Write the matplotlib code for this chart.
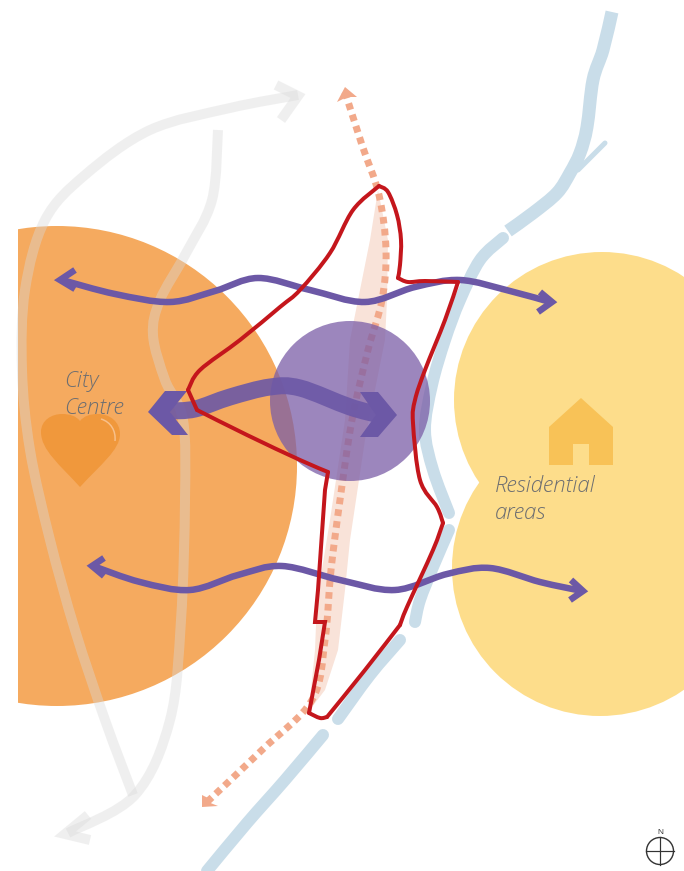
import matplotlib
matplotlib.use('Agg')
import matplotlib.pyplot as plt
from matplotlib.path import Path
from matplotlib.patches import Circle, PathPatch, Polygon, Rectangle

# everything below is in picture pixels, y going down
orange_c = (57, 466, 240)
yellow_c1 = (602, 400, 148)
yellow_c2 = (600, 568, 148)
purple_c = (350, 401, 80)

road_outer = [(298,95),(230,108),(150,130),(85,175),(45,220),(25,290),(22,370),(30,450),(50,540),(75,630),(105,720),(133,795)]
road_inner = [(218,130),(212,200),(185,255),(160,300),(153,335),(165,380),(183,420),(185,500),(181,620),(170,720),(135,795),(68,833)]
road_head1 = [(276,85),(298,96),(281,120)]
road_head2 = [(88,815),(65,834),(90,840)]

river1 = [(612,12),(603,50),(593,80),(587,127),(580,153),(570,173),(557,193),(533,213),(508,231)]
river2 = [(503,238),(480,260),(460,300),(445,340),(432,385),(425,430),(433,470),(449,513)]
river3 = [(449,530),(433,567),(420,600),(415,622)]
river4 = [(400,640),(370,675),(338,719)]
river5 = [(323,735),(285,780),(247,823),(207,871)]
branch = [(578,170),(605,143)]

band = [(378,190),(370,240),(358,300),(350,340),(345,420),(330,520),(317,600),(315,650),(310,700),(312,707),(325,690),(338,650),(345,590),(350,540),(365,440),(385,340),(387,300),(388,240)]
dotted = [(345,92),(362,145),(379,195),(386,250),(382,300),(368,350),(352,420),(340,500),(331,570),(325,640),(312,700),(262,750),(207,802)]
dot_head1 = [(345,87),(357,97),(347,97),(337,102)]
dot_head2 = [(202,807),(202,795),(210,799),(208,802),(218,806)]

top_arrow = [(62,280),(115,294),(170,302),(215,291),(258,278),(310,290),(365,302),(415,287),(460,280),(510,291),(550,302)]
top_head1 = [(75,270),(60,280),(75,289)]
top_head2 = [(540,292),(552,302),(538,312)]
low_arrow = [(93,566),(140,582),(190,590),(238,575),(282,566),(340,580),(395,590),(447,574),(490,568),(540,582),(582,591)]
low_head1 = [(104,558),(92,566),(104,576)]
low_head2 = [(571,580),(583,591),(570,600)]
main_arrow = [(170,411),(195,409),(230,397),(270,387),(300,388),(350,407),(380,415)]
main_head1 = [(148,412),(165,391),(187,391),(170,412),(188,435),(172,435)]
main_head2 = [(397,415),(378,392),(360,392),(376,415),(360,437),(378,437)]

# boundary drawn in stretches, the corners between them stay sharp
edge_a = [(379,186),(388,192),(397,215),(401,240),(400,265),(398,278)]
edge_b = [(398,278),(408,282),(425,281),(458,282)]
edge_c = [(458,282),(445,320),(425,370),(415,400),(413,423),(420,480),(437,507),(443,523)]
edge_d = [(443,523),(433,550),(407,607),(400,625)]
edge_e = [(400,625),(365,670),(327,717)]
edge_f = [(327,717),(320,718),(309,713)]
edge_g = [(309,713),(319,660),(325,622),(315,622),(318,590),(325,490),(328,472)]
edge_h = [(328,472),(300,460),(247,435),(197,410)]
edge_i = [(197,410),(188,390)]
edge_j = [(188,390),(200,370),(240,340),(280,307),(300,290),(330,253),(353,210),(379,186)]

heart = [(80,487),(60,465),(41,450),(41,432),(41,420),(52,414),(62,414),(70,414),(76,416),(80,421),(84,416),(90,414),(98,414),(110,414),(120,422),(120,434),(120,450),(100,465),(80,487)]
heart_shine = [(101,419),(111,422),(116,431),(115,441)]
house = [(581,398),(613,427),(613,465),(589,465),(589,444),(573,444),(573,465),(549,465),(549,427)]

purple = '#6c58a6'
peach = '#f2a98a'
river_col = '#c9dde9'
red = '#c4161c'
text_col = '#6d6e71'


def px(n):
    return n * 0.72


def smooth(pts):
    # catmull-rom through the points, written as bezier segments
    verts = [pts[0]]
    codes = [Path.MOVETO]
    for i in range(len(pts) - 1):
        p0 = pts[max(i - 1, 0)]
        p1 = pts[i]
        p2 = pts[i + 1]
        p3 = pts[min(i + 2, len(pts) - 1)]
        c1 = (p1[0] + (p2[0] - p0[0]) / 6, p1[1] + (p2[1] - p0[1]) / 6)
        c2 = (p2[0] - (p3[0] - p1[0]) / 6, p2[1] - (p3[1] - p1[1]) / 6)
        verts += [c1, c2, p2]
        codes += [Path.CURVE4] * 3
    return Path(verts, codes)


def curve(pts, color, w, z, **kw):
    p = PathPatch(smooth(pts), fill=False, edgecolor=color, lw=px(w), zorder=z, **kw)
    ax.add_patch(p)
    return p


def chevron(pts, color, w, z, alpha=1):
    xs = [q[0] for q in pts]
    ys = [q[1] for q in pts]
    ax.plot(xs, ys, color=color, lw=px(w), zorder=z, alpha=alpha,
            solid_joinstyle='miter', solid_capstyle='butt')


fig = plt.figure(figsize=(6.84, 8.71), dpi=100)
ax = fig.add_axes([0, 0, 1, 1])
ax.set_xlim(0, 684)
ax.set_ylim(871, 0)
ax.axis('off')

# the orange disc is cut off at the left page margin
clip = Rectangle((18, 0), 666, 871, transform=ax.transData)
o = Circle(orange_c[:2], orange_c[2], color='#f5aa5f', lw=0, zorder=1)
ax.add_patch(o)
o.set_clip_path(clip)
ax.add_patch(Circle(yellow_c1[:2], yellow_c1[2], color='#fddd8b', lw=0, zorder=1))
ax.add_patch(Circle(yellow_c2[:2], yellow_c2[2], color='#fddd8b', lw=0, zorder=1))

for r in (road_outer, road_inner):
    curve(r, '#d9d9d9', 10, 2, alpha=0.4, capstyle='butt')
chevron(road_head1, '#d9d9d9', 10, 2, alpha=0.4)
chevron(road_head2, '#d9d9d9', 10, 2, alpha=0.4)

curve(river1, river_col, 13, 3, capstyle='butt')
for r in (river2, river3, river4, river5):
    curve(r, river_col, 12, 3, capstyle='round')
curve(branch, river_col, 5, 3, capstyle='round')

ax.add_patch(Polygon(band, closed=True, color='#f9e3d9', lw=0, zorder=4))
curve(dotted, peach, 7, 5, linestyle=(0, (0.95, 0.75)), capstyle='butt')
ax.add_patch(Polygon(dot_head1, closed=True, color=peach, lw=0, zorder=5))
ax.add_patch(Polygon(dot_head2, closed=True, color=peach, lw=0, zorder=5))

ax.add_patch(Circle(purple_c[:2], purple_c[2], color='#7b5ea7', alpha=0.75, lw=0, zorder=6))

curve(top_arrow, purple, 6.5, 7, capstyle='butt')
chevron(top_head1, purple, 6.5, 7)
chevron(top_head2, purple, 6.5, 7)
curve(low_arrow, purple, 6.5, 7, capstyle='butt')
chevron(low_head1, purple, 6.5, 7)
chevron(low_head2, purple, 6.5, 7)
curve(main_arrow, purple, 17, 7, alpha=0.9, capstyle='butt')
ax.add_patch(Polygon(main_head1, closed=True, color=purple, lw=0, zorder=7))
ax.add_patch(Polygon(main_head2, closed=True, color=purple, lw=0, zorder=7))

for e in (edge_a, edge_b, edge_c, edge_d, edge_e, edge_f, edge_h, edge_i, edge_j):
    curve(e, red, 4, 8, capstyle='round')
ax.plot([q[0] for q in edge_g], [q[1] for q in edge_g], color=red, lw=px(4), zorder=8,
        solid_joinstyle='miter', solid_capstyle='round')

# heart and house icons
codes = [Path.MOVETO] + [Path.CURVE4] * (len(heart) - 1)
ax.add_patch(PathPatch(Path(heart, codes), facecolor='#f0983c', lw=0, zorder=4))
ax.add_patch(PathPatch(Path(heart_shine, [Path.MOVETO] + [Path.CURVE4] * 3), fill=False,
                       edgecolor='#f8c08a', lw=px(1.5), zorder=4))
ax.add_patch(Polygon(house, closed=True, color='#f8c257', lw=0, zorder=4))

font = dict(family='Open Sans', style='italic', weight='light', fontsize=16,
            color=text_col, zorder=9, va='baseline', ha='left')
ax.text(64, 387, 'City', **font)
ax.text(64, 414, 'Centre', **font)
ax.text(495, 492, 'Residential', **font)
ax.text(495, 519, 'areas', **font)

# north sign
ax.add_patch(Circle((660, 851), 13.5, fill=False, edgecolor='#333333', lw=px(1.4), zorder=9))
ax.plot([660, 660], [837, 865], color='#333333', lw=px(1.2), zorder=9)
ax.plot([646, 674], [851, 851], color='#333333', lw=px(1.2), zorder=9)
ax.text(660, 834, 'N', family='Liberation Sans', fontsize=6, color='#333333',
        ha='center', va='baseline', zorder=9)

fig.savefig('out.png', dpi=100)
